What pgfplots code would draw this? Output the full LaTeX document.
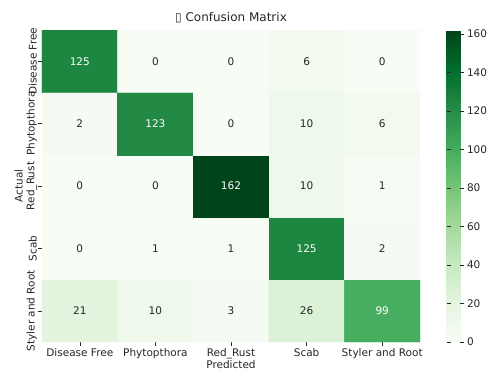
\documentclass[border=0pt]{standalone}
\usepackage{pgfplots}
\pgfplotsset{compat=1.18}
\usepackage{pgfplotstable}
\usepackage{fontspec}
\setmainfont{DejaVu Sans}
\definecolor{darktext}{HTML}{262626}
\definecolor{ticktext}{HTML}{262626}

% confusion matrix: x = predicted class, y = 4 - actual class index, c = count
\pgfplotstableread{
x y c
0 0 21
1 0 10
2 0 3
3 0 26
4 0 99
0 1 0
1 1 1
2 1 1
3 1 125
4 1 2
0 2 0
1 2 0
2 2 162
3 2 10
4 2 1
0 3 2
1 3 123
2 3 0
3 3 10
4 3 6
0 4 125
1 4 0
2 4 0
3 4 6
4 4 0
}\cm

\newcommand\lblfont{\fontsize{10.5}{12.5}\selectfont}

\pgfplotsset{
  cell label/.style={only marks, mark=none,
    point meta=explicit symbolic,
    nodes near coords,
    nodes near coords align=center,
    unbounded coords=discard,
    every node near coord/.append style={font=\lblfont,
      anchor=center, text=#1}},
}

\begin{document}
\begin{tikzpicture}
\begin{axis}[
  scale only axis,
  width=378pt, height=312pt,
  xmin=-0.5, xmax=4.5, ymin=-0.5, ymax=4.5,
  axis line style={draw=none},
  font=\lblfont,
  tick label style={font=\lblfont, text=ticktext},
  label style={font=\lblfont, text=ticktext},
  xtick={0,...,4}, ytick={0,...,4},
  xticklabels={Disease Free, Phytopthora, Red\_Rust, Scab, Styler and Root},
  yticklabels={Styler and Root, Scab, Red\_Rust, Phytopthora, Disease Free},
  yticklabel style={rotate=90, anchor=south, inner sep=1pt},
  xticklabel style={yshift=1pt},
  tick pos=left,
  tick align=outside,
  major tick length=4pt,
  tick style={draw=ticktext, line width=0.6pt},
  xlabel={Predicted}, ylabel={Actual},
  xlabel style={yshift=5pt},
  ylabel style={yshift=-1pt},
  title={▯ Confusion Matrix},
  title style={font=\fontsize{12}{14}\selectfont, text=ticktext, yshift=-2pt},
  colormap={greens}{
    rgb255=(247,252,245) rgb255=(229,245,224) rgb255=(199,233,192)
    rgb255=(161,217,155) rgb255=(116,196,118) rgb255=(65,171,93)
    rgb255=(35,139,69) rgb255=(0,109,44) rgb255=(0,68,27)},
  point meta min=0, point meta max=162,
  colorbar,
  colorbar style={
    at={(parent axis.north east)}, anchor=north west, xshift=18pt,
    width=17pt,
    axis line style={draw=none},
    ytick={0,20,...,160},
    yticklabel style={font=\lblfont, text=ticktext},
    /pgf/number format/assume math mode=true,
    major tick length=4pt,
    tick style={draw=ticktext, line width=0.6pt},
  },
  /pgf/number format/assume math mode=true,
]
\addplot[matrix plot*, mesh/cols=5, point meta=explicit, shader=flat corner]
  table[x=x, y=y, meta=c] {\cm};

% counts on dark cells in white, on light cells in dark grey
\addplot[cell label=white,
  x filter/.expression={\thisrow{c}>60 ? x : nan}]
  table[x=x, y=y, meta=c] {\cm};
\addplot[cell label=darktext,
  x filter/.expression={\thisrow{c}>60 ? nan : x}]
  table[x=x, y=y, meta=c] {\cm};
\end{axis}
\pgfresetboundingbox
\path (-42pt,-41pt) rectangle (448pt,342pt);
\end{tikzpicture}
\end{document}
